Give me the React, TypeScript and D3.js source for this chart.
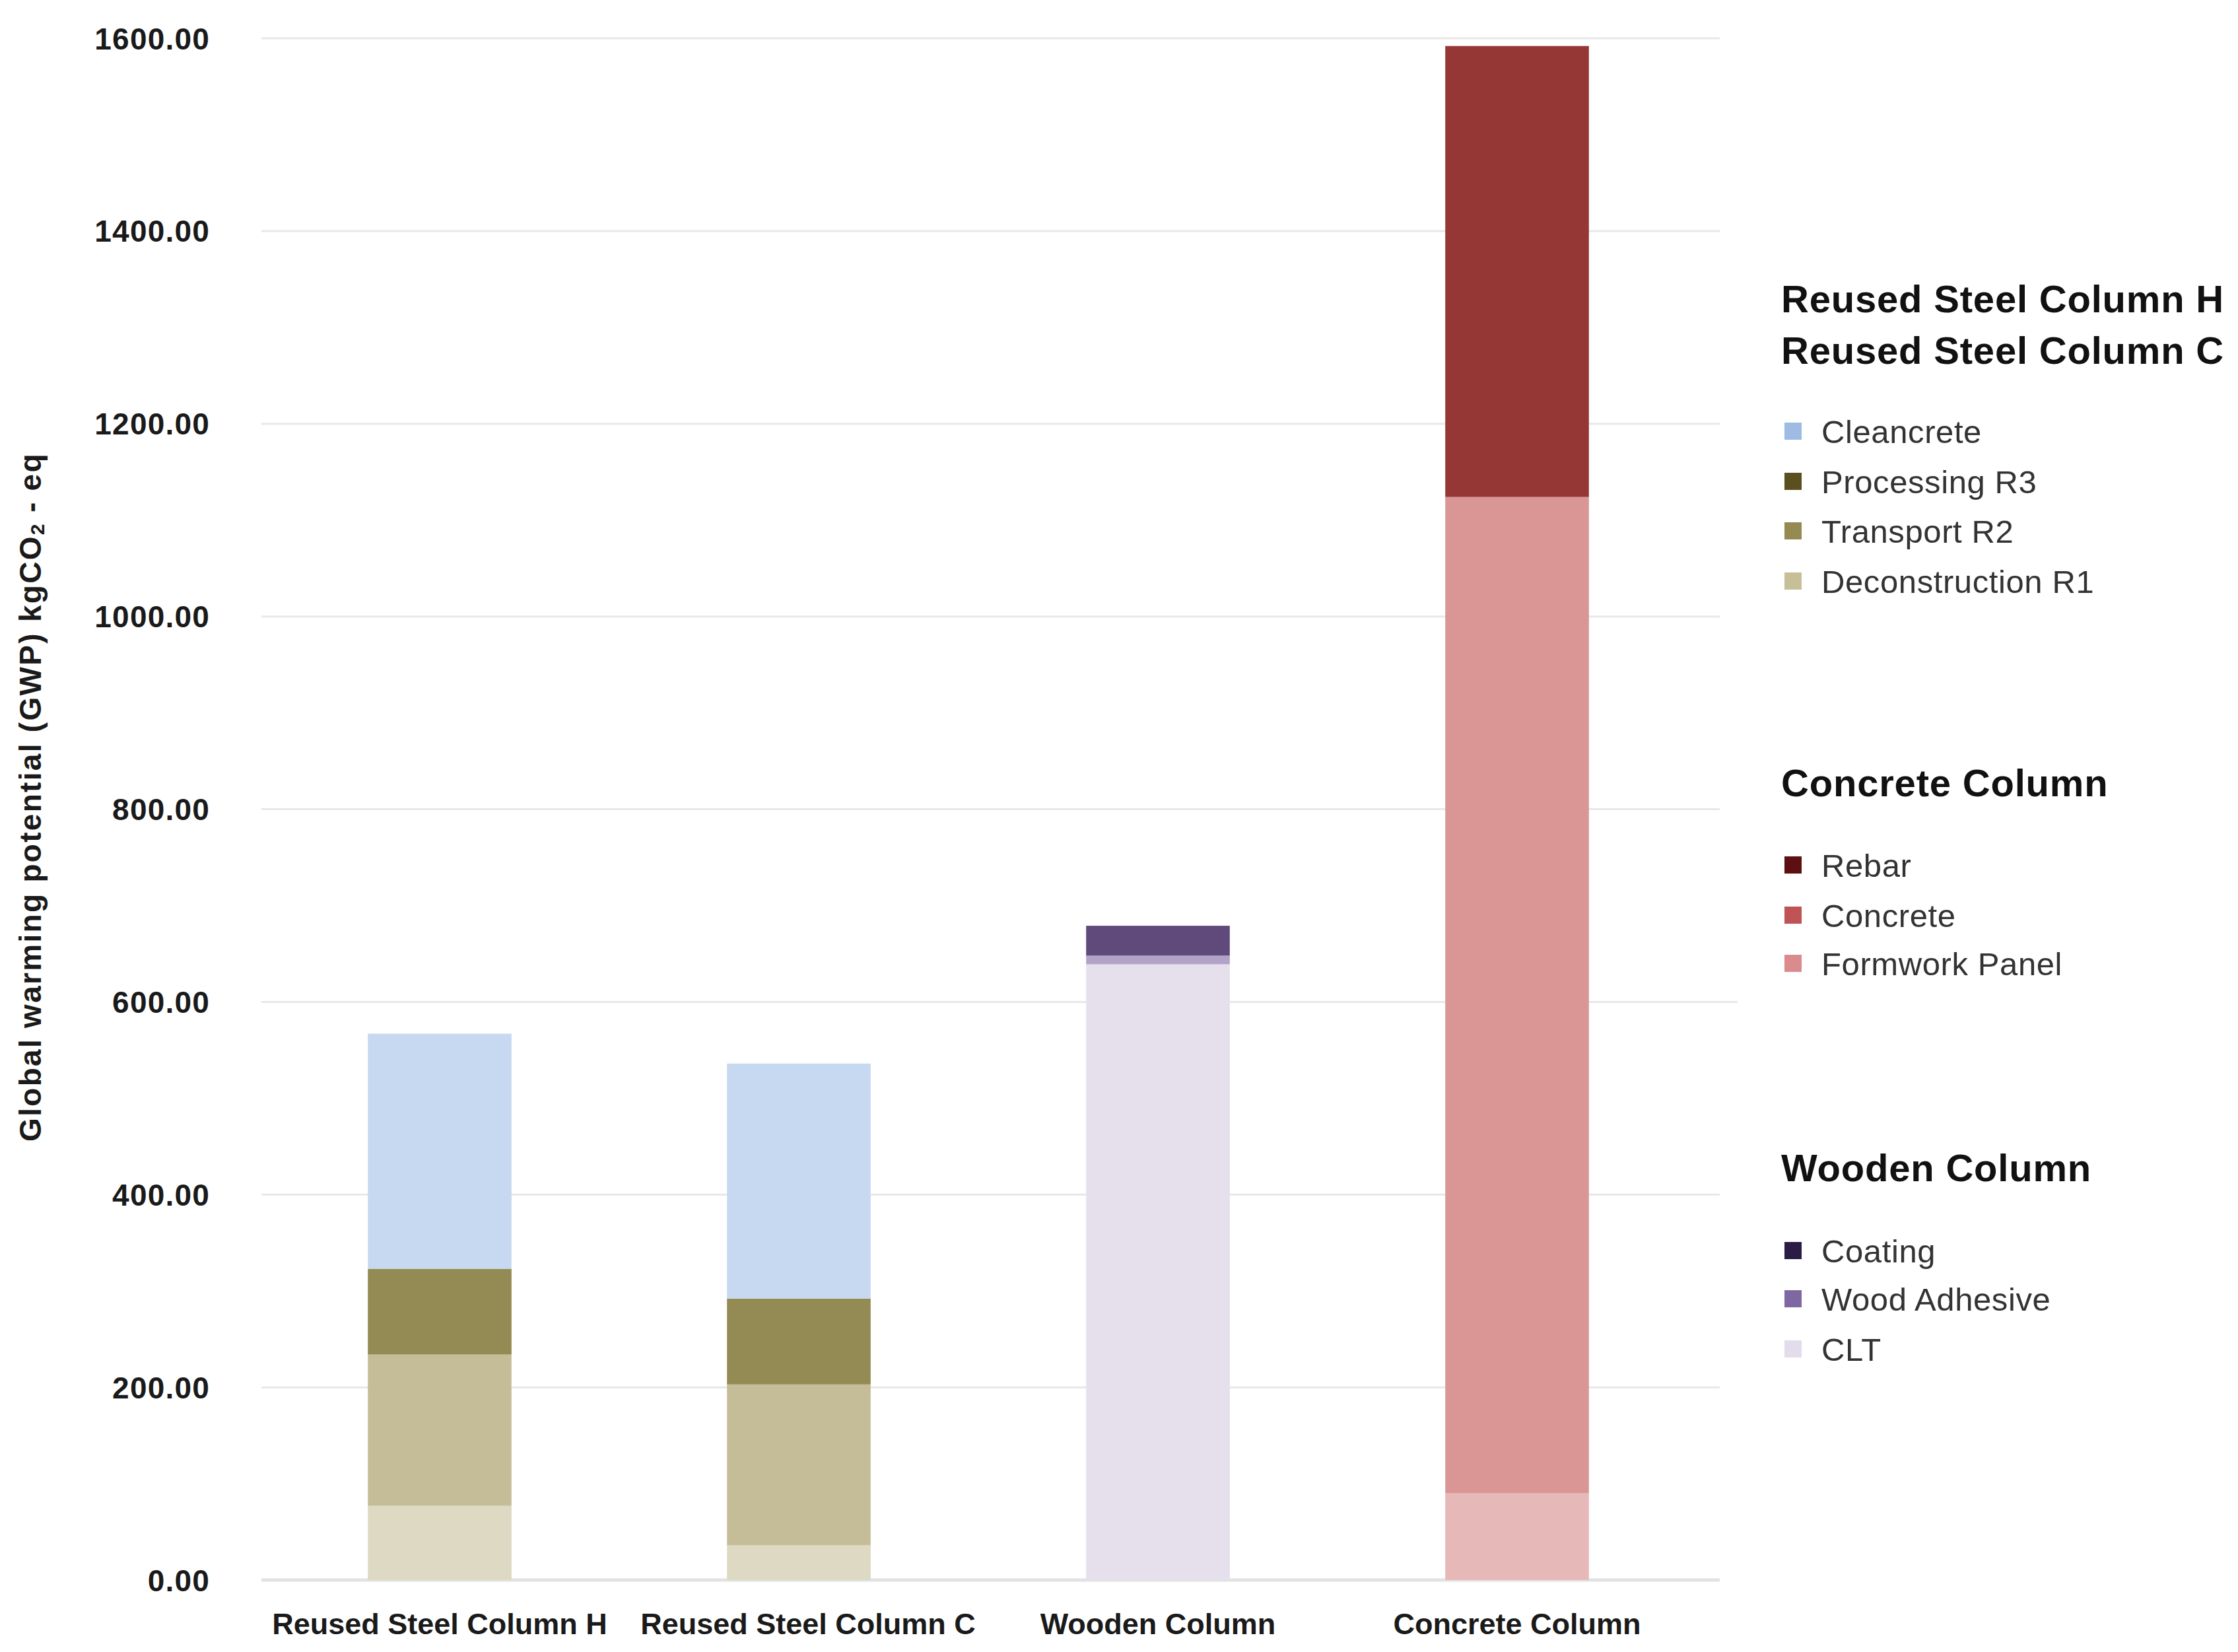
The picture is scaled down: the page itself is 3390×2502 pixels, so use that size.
import React from "react";
import * as d3 from "d3";

const categories = ["Reused Steel Column H", "Reused Steel Column C", "Wooden Column", "Concrete Column"];

const deconstructionR1 = [77, 36, 0, 0];
const transportR2 = [157, 167, 0, 0];
const processingR3 = [89, 89, 0, 0];
const cleancrete = [244, 244, 0, 0];
const clt = [0, 0, 639, 0];
const woodAdhesive = [0, 0, 9, 0];
const coating = [0, 0, 31, 0];
const formworkPanel = [0, 0, 0, 90];
const concrete = [0, 0, 0, 1034];
const rebar = [0, 0, 0, 468];

const yTicks = [0, 200, 400, 600, 800, 1000, 1200, 1400, 1600];

const seriesKeys = [
  "Deconstruction R1", "Transport R2", "Processing R3", "Cleancrete",
  "CLT", "Wood Adhesive", "Coating",
  "Formwork Panel", "Concrete", "Rebar",
];
const seriesValues: Record<string, number[]> = {
  "Deconstruction R1": deconstructionR1,
  "Transport R2": transportR2,
  "Processing R3": processingR3,
  "Cleancrete": cleancrete,
  "CLT": clt,
  "Wood Adhesive": woodAdhesive,
  "Coating": coating,
  "Formwork Panel": formworkPanel,
  "Concrete": concrete,
  "Rebar": rebar,
};
const barColors: Record<string, string> = {
  "Deconstruction R1": "#ddd9c3",
  "Transport R2": "#c4bd97",
  "Processing R3": "#948a54",
  "Cleancrete": "#c6d9f0",
  "CLT": "#e5e0ec",
  "Wood Adhesive": "#b3a2c7",
  "Coating": "#604a7b",
  "Formwork Panel": "#e6b9b8",
  "Concrete": "#d99694",
  "Rebar": "#953735",
};
const legendColors: Record<string, string> = {
  "Cleancrete": "#9dbbe3",
  "Processing R3": "#5b4f1f",
  "Transport R2": "#958b52",
  "Deconstruction R1": "#c7bf98",
  "Rebar": "#5e0f12",
  "Concrete": "#bf5356",
  "Formwork Panel": "#d98b8e",
  "Coating": "#2b1c45",
  "Wood Adhesive": "#7f67a2",
  "CLT": "#e3dcea",
};

const legendGroups = [
  { titles: ["Reused Steel Column H", "Reused Steel Column C"], titleY: [452, 530], items: ["Cleancrete", "Processing R3", "Transport R2", "Deconstruction R1"], itemY: [653, 729, 804, 880] },
  { titles: ["Concrete Column"], titleY: [1185], items: ["Rebar", "Concrete", "Formwork Panel"], itemY: [1310, 1386, 1459] },
  { titles: ["Wooden Column"], titleY: [1768], items: ["Coating", "Wood Adhesive", "CLT"], itemY: [1894, 1967, 2043] },
];

const W = 3390;
const H = 2502;
const FONT = "'Liberation Sans', Arial, Helvetica, sans-serif";

export default function App() {
  const x = d3.scaleBand<string>().domain(categories).range([394, 2570]).paddingInner(0.6).paddingOuter(0.3);
  const y = d3.scaleLinear().domain([0, 1600]).range([2393, 58]);

  const table = categories.map((c, i) => {
    const row: Record<string, any> = { category: c };
    seriesKeys.forEach((k) => (row[k] = seriesValues[k][i]));
    return row;
  });
  const stacked = d3.stack<Record<string, any>>().keys(seriesKeys)(table);

  return (
    <div style={{ position: "absolute", left: 0, top: 0 }}>
      <svg width={W} height={H} viewBox={`0 0 ${W} ${H}`} style={{ display: "block", background: "#fff" }}>
        <rect x={0} y={0} width={W} height={H} fill="#ffffff" />
        {yTicks.map((t) => (
          <g key={t}>
            <line x1={396} x2={t === 600 ? 2632 : 2605} y1={y(t)} y2={y(t)} stroke={t === 0 ? "#e2e2e2" : "#e8e8e8"} strokeWidth={t === 0 ? 5 : 3} />
            <text x={318} y={y(t)} dy="0.36em" textAnchor="end" fontFamily={FONT} fontWeight="bold" fontSize={46} fill="#1a1a1a" letterSpacing={1.2}>
              {d3.format(".2f")(t)}
            </text>
          </g>
        ))}
        {stacked.map((s) => (
          <g key={s.key} fill={barColors[s.key]}>
            {s.map((d, i) =>
              d[1] - d[0] > 0 ? (
                <rect key={i} x={x(categories[i])} width={x.bandwidth()} y={y(d[1])} height={y(d[0]) - y(d[1])} />
              ) : null
            )}
          </g>
        ))}
        {categories.map((c, i) => (
          <text key={c} x={(x(c) as number) + x.bandwidth() / 2 + (i === 1 ? 14 : 0)} y={2475} textAnchor="middle" fontFamily={FONT} fontWeight="bold" fontSize={45} fill="#1a1a1a">
            {c}
          </text>
        ))}
        <text transform={`translate(46,1207) rotate(-90)`} textAnchor="middle" dominantBaseline="central" fontFamily={FONT} fontWeight="bold" fontSize={46} fill="#1a1a1a" letterSpacing={2.3}>
          Global warming potential (GWP) kgCO
          <tspan fontSize={30} dy={10}>2</tspan>
          <tspan dy={-10}> - eq</tspan>
        </text>
        {legendGroups.map((g, gi) => (
          <g key={gi}>
            {g.titles.map((t, ti) => (
              <text key={t} x={2698} y={g.titleY[ti]} dy="0.36em" fontFamily={FONT} fontWeight="bold" fontSize={58} fill="#111" letterSpacing={0.8}>
                {t}
              </text>
            ))}
            {g.items.map((it, ii) => (
              <g key={it}>
                <rect x={2703} y={g.itemY[ii] - 13} width={26} height={26} fill={legendColors[it]} />
                <text x={2759} y={g.itemY[ii]} dy="0.36em" fontFamily={FONT} fontSize={49} fill="#333" letterSpacing={0.6}>
                  {it}
                </text>
              </g>
            ))}
          </g>
        ))}
      </svg>
    </div>
  );
}
